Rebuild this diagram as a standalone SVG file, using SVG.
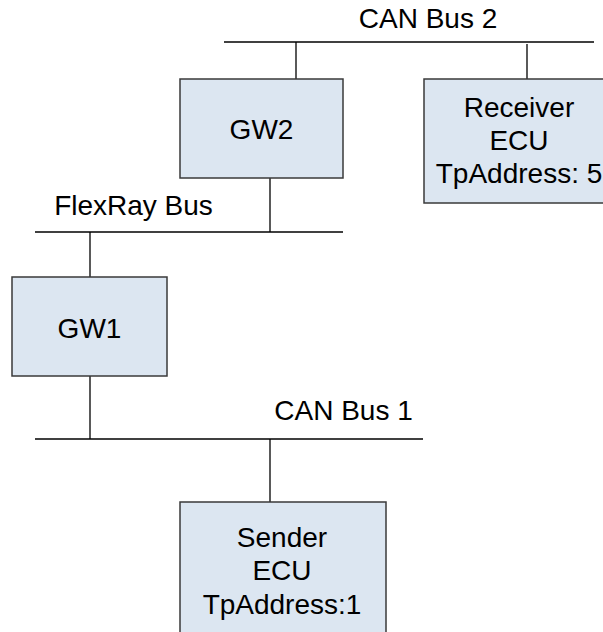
<svg xmlns="http://www.w3.org/2000/svg" width="603" height="632" viewBox="0 0 603 632">
<style>
.box{fill:#dce6f1;stroke:#3a3a3a;stroke-width:1.5}
.ln{stroke:#000;stroke-width:1.3;fill:none}
text{font-family:"Liberation Sans",Arial,sans-serif;font-size:28px;fill:#000;text-anchor:middle}
</style>
<rect width="603" height="632" fill="#fff"/>
<g id="connectors">
<line class="ln" x1="224" y1="42" x2="594" y2="42"/>
<line class="ln" x1="296" y1="42" x2="296" y2="79"/>
<line class="ln" x1="527" y1="44" x2="527" y2="79"/>
<line class="ln" x1="270" y1="178" x2="270" y2="232"/>
<line class="ln" x1="35" y1="232" x2="343" y2="232"/>
<line class="ln" x1="90" y1="232" x2="90" y2="277"/>
<line class="ln" x1="90" y1="376" x2="90" y2="439"/>
<line class="ln" x1="35" y1="439" x2="423" y2="439"/>
<line class="ln" x1="270" y1="439" x2="270" y2="502"/>
</g>
<g id="labels">
<text x="428" y="28">CAN Bus 2</text>
<text x="133.5" y="215">FlexRay Bus</text>
<text x="343.5" y="420">CAN Bus 1</text>
</g>
<g id="gw2">
<rect class="box" x="180" y="79" width="163" height="99"/>
<text x="261.5" y="139">GW2</text>
</g>
<g id="receiver">
<rect class="box" x="424" y="79" width="188" height="124"/>
<text x="519" y="117">Receiver</text>
<text x="519" y="150">ECU</text>
<text x="519" y="183">TpAddress: 5</text>
</g>
<g id="gw1">
<rect class="box" x="12" y="277" width="155" height="99"/>
<text x="89.5" y="338">GW1</text>
</g>
<g id="sender">
<rect class="box" x="180" y="502" width="206" height="140"/>
<text x="282" y="547">Sender</text>
<text x="282" y="580">ECU</text>
<text x="282" y="614">TpAddress:1</text>
</g>
</svg>
